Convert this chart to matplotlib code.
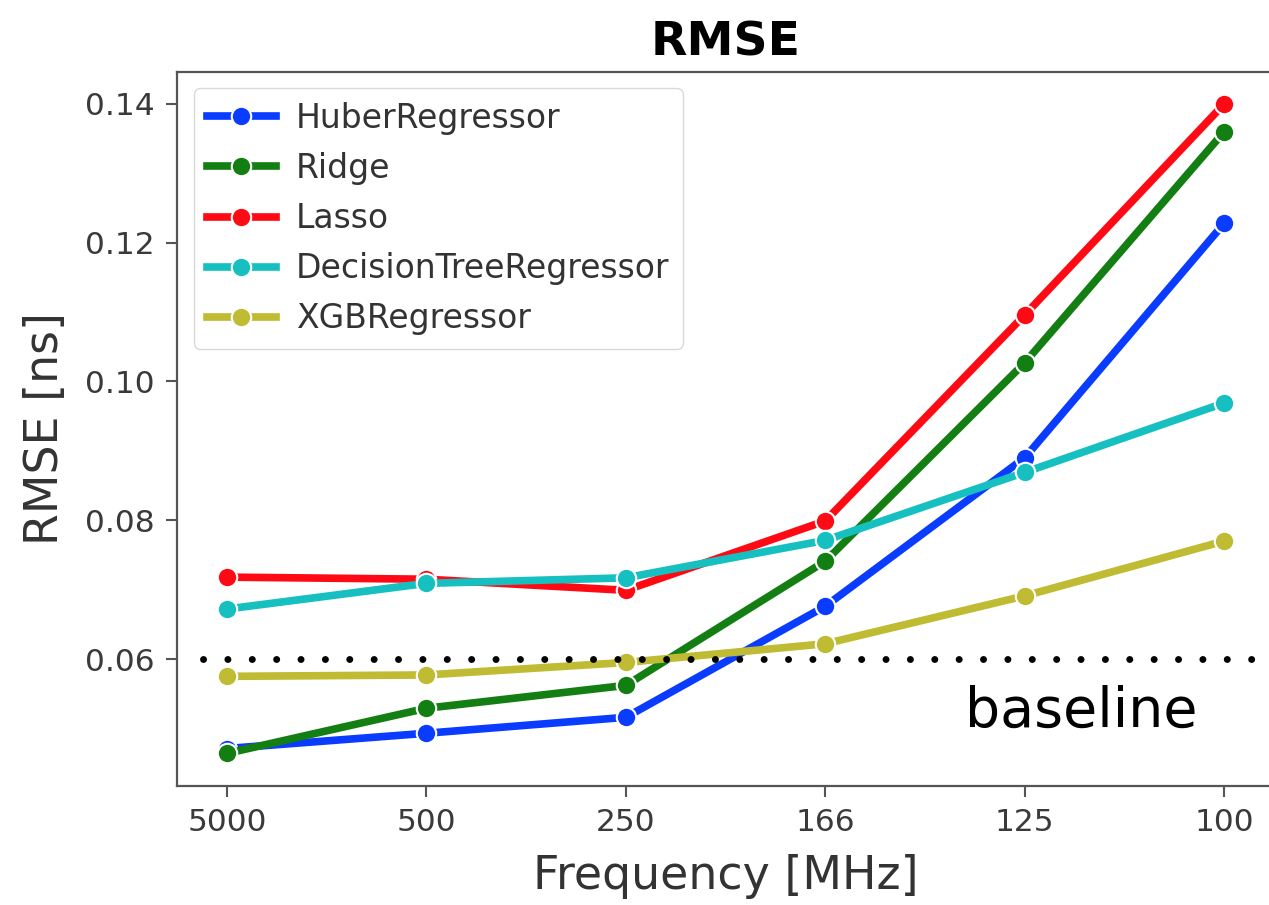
import numpy as np
import matplotlib
matplotlib.use("Agg")
import matplotlib.pyplot as plt

# частоты (категории по оси x) и значения RMSE для каждой модели
freqs = ["5000", "500", "250", "166", "125", "100"]
huber = [0.0471, 0.0493, 0.0516, 0.0676, 0.0890, 0.1228]
ridge = [0.0464, 0.0529, 0.0562, 0.0741, 0.1027, 0.1360]
lasso = [0.0718, 0.0715, 0.0699, 0.0799, 0.1096, 0.1400]
dtree = [0.0672, 0.0709, 0.0717, 0.0771, 0.0869, 0.0969]
xgb = [0.0575, 0.0577, 0.0595, 0.0622, 0.0691, 0.0770]
baseline = 0.06

series = [
    ("HuberRegressor", huber, "#0a3cff"),
    ("Ridge", ridge, "#137f13"),
    ("Lasso", lasso, "#ff0a14"),
    ("DecisionTreeRegressor", dtree, "#17c0c0"),
    ("XGBRegressor", xgb, "#bfbb33"),
]

fig = plt.figure(figsize=(12.69, 9.05), dpi=100)
ax = fig.add_axes([0.1395, 0.1315, 0.8645, 0.789])

x = np.arange(len(freqs))
for name, vals, col in series:
    ax.plot(x, vals, "-o", color=col, lw=5.5, ms=14,
            markeredgecolor="white", markeredgewidth=1.5, label=name)

# пунктир базовой линии
ax.plot([-0.12, 5.3], [baseline, baseline], color="black", lw=5,
        linestyle=(0, (0.01, 3.5)), dash_capstyle="round")
ax.text(4.285, 0.0524, "baseline", fontsize=40, color="black",
        ha="center", va="center")

ax.set_xlim(-0.25, 5.25)
ax.set_ylim(0.0417, 0.1446)
ax.set_xticks(x)
ax.set_xticklabels(freqs)
ax.set_yticks([0.06, 0.08, 0.10, 0.12, 0.14])
ax.set_yticklabels(["0.06", "0.08", "0.10", "0.12", "0.14"])

ax.tick_params(labelsize=22.5, labelcolor="#3a3a3a", color="#555555",
               length=8, width=1.5, pad=8)
for s in ax.spines.values():
    s.set_color("#555555")
    s.set_linewidth(1.6)

ax.set_xlabel("Frequency [MHz]", fontsize=33, color="#333333", labelpad=12)
ax.set_ylabel("RMSE [ns]", fontsize=33, color="#333333", labelpad=12)
ax.set_title("RMSE", fontsize=34, fontweight="bold", pad=12)

leg = ax.legend(loc="upper left", fontsize=23.8, handlelength=2.1,
                handletextpad=0.6, borderpad=0.4, labelspacing=0.52,
                fancybox=True, bbox_to_anchor=(0.0, 1.0))
leg.get_frame().set_edgecolor("#d0d0d0")
for t in leg.get_texts():
    t.set_color("#333333")

plt.savefig("out.png", dpi=100)
